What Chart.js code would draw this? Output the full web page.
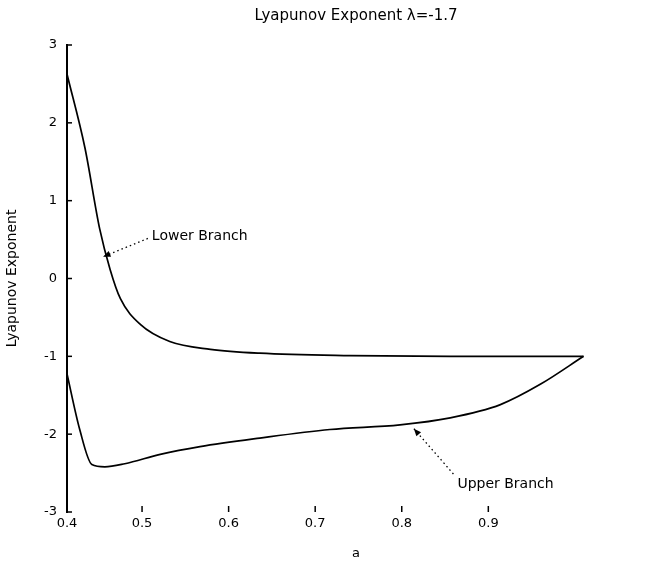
<!DOCTYPE html>
<html>
<head>
<meta charset="utf-8">
<script src="https://cdn.jsdelivr.net/npm/chart.js@4/dist/chart.umd.min.js"></script>
<style>
  html, body { margin: 0; padding: 0; background: #fff; }
  #wrap { width: 645px; height: 565px; }
</style>
</head>
<body>
<div id="wrap"><canvas id="myChart" width="645" height="565"></canvas></div>
<script>
// data
const lowerX = [0.413, 0.434, 0.451, 0.463, 0.475, 0.498, 0.532, 0.579, 0.636, 0.740, 0.856, 1.010];
const lowerY = [2.64, 1.68, 0.64, 0.12, -0.26, -0.59, -0.81, -0.91, -0.96, -0.99, -1.00, -1.00];
const upperX = [0.413, 0.428, 0.442, 0.457, 0.480, 0.521, 0.567, 0.636, 0.717, 0.798, 0.856, 0.914, 0.960, 1.010];
const upperY = [-1.21, -1.94, -2.39, -2.42, -2.38, -2.26, -2.16, -2.05, -1.94, -1.88, -1.79, -1.62, -1.36, -1.00];
const xTicks = [0.4133, 0.5, 0.6, 0.7, 0.8, 0.9];
const xTickLabels = ['0.4', '0.5', '0.6', '0.7', '0.8', '0.9'];
const yTicks = [-3, -2, -1, 0, 1, 2, 3];
const titleText = 'Lyapunov Exponent λ=-1.7';

// annotation text + arrow (data coords)
const notes = [
  { text: 'Lower Branch', tx: 0.509, ty: 0.54, ax: 0.455, ay: 0.28 },
  { text: 'Upper Branch', tx: 0.862, ty: -2.64, ax: 0.814, ay: -1.93 }
];

const FONT = '"DejaVu Sans", Verdana, sans-serif';

function pts(xs, ys) { return xs.map((x, i) => ({ x: x, y: ys[i] })); }

// title over plot area, inward tick marks, annotations
const extras = {
  id: 'extras',
  afterDraw(chart) {
    const c = chart.ctx, xs = chart.scales.x, ys = chart.scales.y, a = chart.chartArea;
    c.save();
    c.fillStyle = '#000';
    c.font = '15px ' + FONT;
    c.textAlign = 'center';
    c.textBaseline = 'middle';
    c.fillText(titleText, (a.left + a.right) / 2, 16);

    c.strokeStyle = '#000';
    c.lineWidth = 1.5;
    xs.ticks.forEach(t => {
      const px = xs.getPixelForValue(t.value);
      c.beginPath(); c.moveTo(px, a.bottom); c.lineTo(px, a.bottom - 6); c.stroke();
    });
    ys.ticks.forEach(t => {
      const py = ys.getPixelForValue(t.value);
      c.beginPath(); c.moveTo(a.left, py); c.lineTo(a.left + 5, py); c.stroke();
    });

    c.font = '14px ' + FONT;
    c.textAlign = 'left';
    notes.forEach(n => {
      const tx = xs.getPixelForValue(n.tx), ty = ys.getPixelForValue(n.ty);
      const ax = xs.getPixelForValue(n.ax), ay = ys.getPixelForValue(n.ay);
      c.fillText(n.text, tx + 2, ty);
      const sx = tx - 2, sy = ty + (n.ty > n.ay ? 2 : -10);
      // dotted leader
      c.setLineDash([1.5, 3]);
      c.lineWidth = 1.3;
      c.beginPath(); c.moveTo(sx, sy); c.lineTo(ax, ay); c.stroke();
      c.setLineDash([]);
      // arrow head
      const ang = Math.atan2(ay - sy, ax - sx);
      c.beginPath();
      c.moveTo(ax, ay);
      c.lineTo(ax - 8 * Math.cos(ang - 0.4), ay - 8 * Math.sin(ang - 0.4));
      c.lineTo(ax - 8 * Math.cos(ang + 0.4), ay - 8 * Math.sin(ang + 0.4));
      c.closePath();
      c.fill();
    });
    c.restore();
  }
};

new Chart(document.getElementById('myChart'), {
  type: 'scatter',
  data: {
    datasets: [
      { label: 'Lower Branch', data: pts(lowerX, lowerY), showLine: true, borderColor: '#000', borderWidth: 1.7, pointRadius: 0, cubicInterpolationMode: 'monotone' },
      { label: 'Upper Branch', data: pts(upperX, upperY), showLine: true, borderColor: '#000', borderWidth: 1.7, pointRadius: 0, cubicInterpolationMode: 'monotone' }
    ]
  },
  options: {
    responsive: false,
    animation: false,
    layout: { padding: { top: 45, left: 0, right: 0, bottom: 0 } },
    plugins: {
      legend: { display: false },
      tooltip: { enabled: false },
      title: { display: false }
    },
    scales: {
      x: {
        type: 'linear',
        min: 0.4133, max: 1.081,
        afterBuildTicks: s => { s.ticks = xTicks.map(v => ({ value: v })); },
        afterFit: s => { s.height = 53; },
        grid: { display: false, drawTicks: false },
        border: { display: false },
        ticks: {
          color: '#000', padding: 4, maxRotation: 0,
          font: { family: FONT, size: 13 },
          callback: (v, i) => xTickLabels[i]
        },
        title: { display: true, text: 'a', color: '#000', font: { family: FONT, size: 13 }, padding: { top: 4 } }
      },
      y: {
        min: -3, max: 3,
        afterBuildTicks: s => { s.ticks = yTicks.map(v => ({ value: v })); },
        afterFit: s => { s.width = 67; },
        grid: { display: false, drawTicks: false },
        border: { display: true, color: '#000', width: 2 },
        ticks: { color: '#000', padding: 10, font: { family: FONT, size: 13 } },
        title: { display: true, text: 'Lyapunov Exponent', color: '#000', font: { family: FONT, size: 14 }, padding: { bottom: 2 } }
      }
    }
  },
  plugins: [extras]
});
</script>
</body>
</html>
